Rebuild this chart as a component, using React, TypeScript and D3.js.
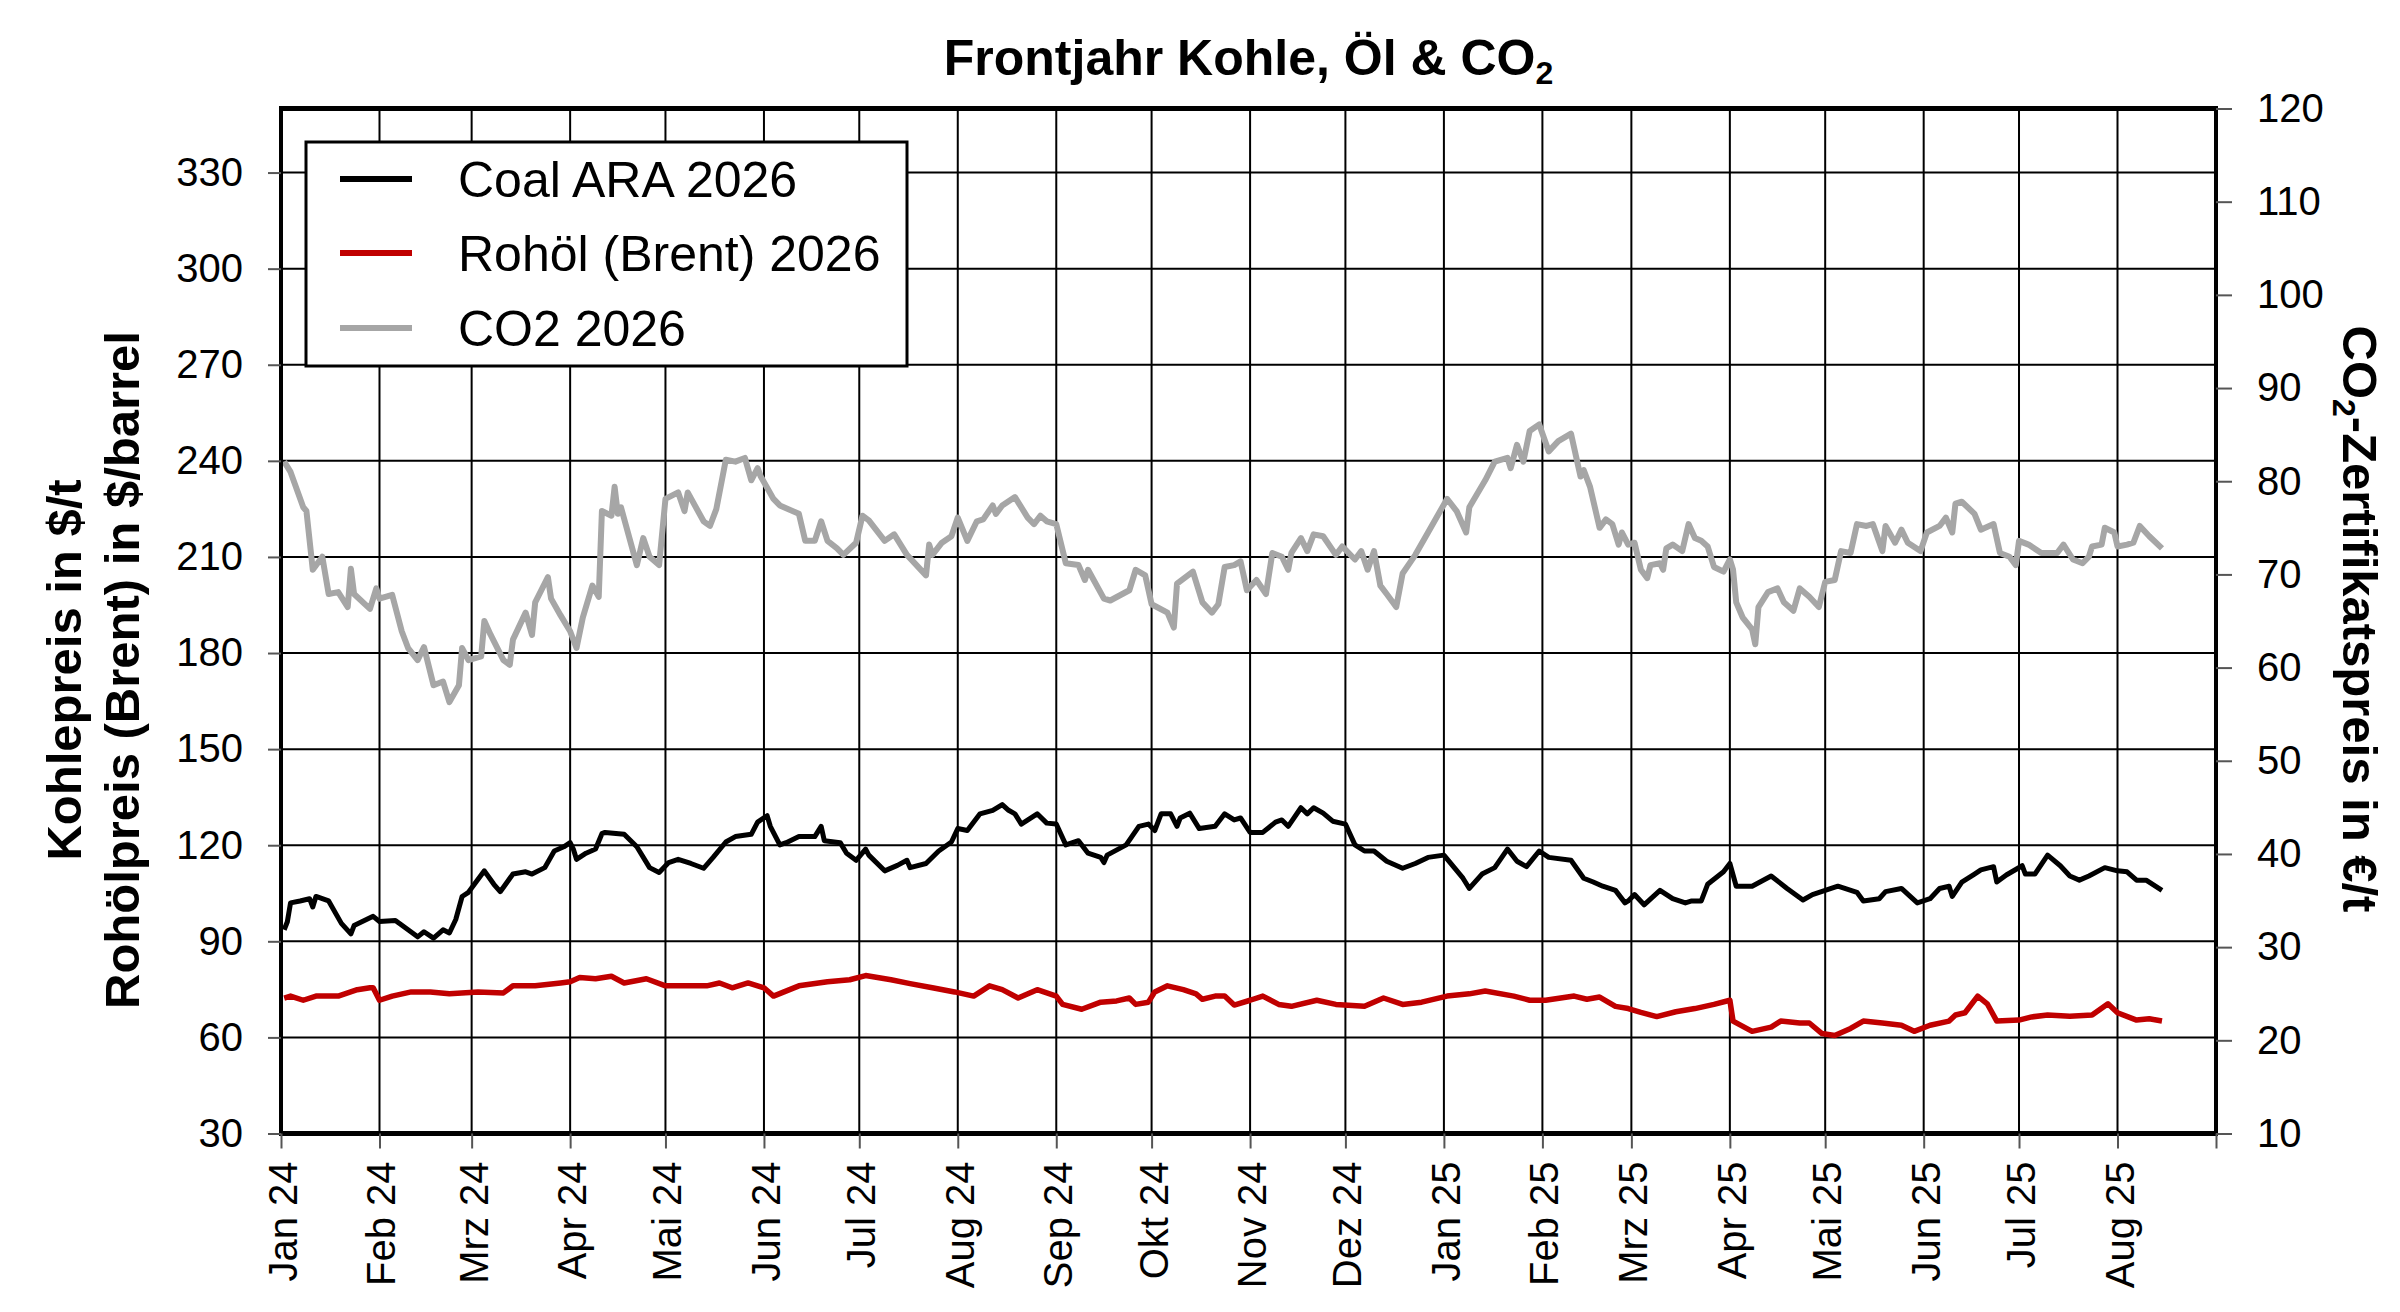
import * as d3 from "d3";
import { useEffect, useRef } from "react";

// month tick labels, Jan 24 .. Aug 25
const monthLabels = [
  "Jan 24", "Feb 24", "Mrz 24", "Apr 24", "Mai 24", "Jun 24", "Jul 24",
  "Aug 24", "Sep 24", "Okt 24", "Nov 24", "Dez 24", "Jan 25", "Feb 25",
  "Mrz 25", "Apr 25", "Mai 25", "Jun 25", "Jul 25", "Aug 25",
];
const leftTicks = [30, 60, 90, 120, 150, 180, 210, 240, 270, 300, 330];
const rightTicks = [10, 20, 30, 40, 50, 60, 70, 80, 90, 100, 110, 120];

const legendLabels = ["Coal ARA 2026", "Rohöl (Brent) 2026", "CO2 2026"];

// Coal ARA 2026 in $/t
const coal: [string, number][] = [
  ["2024-01-02", 93.6], ["2024-01-03", 96.1], ["2024-01-04", 102.0], ["2024-01-07", 102.6],
  ["2024-01-10", 103.3], ["2024-01-11", 100.7], ["2024-01-12", 104.0], ["2024-01-16", 102.6],
  ["2024-01-20", 95.6], ["2024-01-23", 92.3], ["2024-01-24", 94.9], ["2024-01-30", 97.8],
  ["2024-02-01", 96.2], ["2024-02-06", 96.5], ["2024-02-10", 93.6], ["2024-02-13", 91.4],
  ["2024-02-15", 93.0], ["2024-02-18", 91.0], ["2024-02-21", 93.6], ["2024-02-23", 92.6],
  ["2024-02-25", 96.8], ["2024-02-27", 104.0], ["2024-02-29", 105.3], ["2024-03-05", 112.0],
  ["2024-03-08", 107.8], ["2024-03-10", 105.5], ["2024-03-14", 111.0], ["2024-03-18", 111.7],
  ["2024-03-20", 111.0], ["2024-03-24", 113.0], ["2024-03-27", 118.2], ["2024-03-30", 119.5],
  ["2024-04-01", 120.8], ["2024-04-02", 118.8], ["2024-04-03", 115.6], ["2024-04-06", 117.5],
  ["2024-04-09", 118.8], ["2024-04-11", 123.6], ["2024-04-12", 124.0], ["2024-04-18", 123.4],
  ["2024-04-22", 119.5], ["2024-04-26", 113.0], ["2024-04-29", 111.5], ["2024-05-02", 114.6],
  ["2024-05-05", 115.6], ["2024-05-09", 114.3], ["2024-05-13", 112.8], ["2024-05-16", 116.2],
  ["2024-05-20", 121.0], ["2024-05-23", 122.7], ["2024-05-28", 123.4], ["2024-05-30", 127.2],
  ["2024-06-02", 129.2], ["2024-06-03", 125.9], ["2024-06-06", 120.1], ["2024-06-08", 120.8],
  ["2024-06-12", 122.7], ["2024-06-17", 122.7], ["2024-06-19", 125.9], ["2024-06-20", 121.4],
  ["2024-06-25", 120.8], ["2024-06-27", 117.5], ["2024-06-30", 115.3], ["2024-07-03", 118.8],
  ["2024-07-04", 116.9], ["2024-07-09", 112.0], ["2024-07-13", 113.7], ["2024-07-16", 115.3],
  ["2024-07-17", 113.0], ["2024-07-22", 114.3], ["2024-07-26", 118.2], ["2024-07-30", 121.0],
  ["2024-08-01", 125.2], ["2024-08-04", 124.6], ["2024-08-08", 129.8], ["2024-08-12", 130.9],
  ["2024-08-15", 132.7], ["2024-08-17", 130.9], ["2024-08-19", 129.8], ["2024-08-21", 126.6],
  ["2024-08-26", 129.8], ["2024-08-29", 126.9], ["2024-09-01", 126.6], ["2024-09-04", 120.1],
  ["2024-09-08", 121.4], ["2024-09-11", 117.5], ["2024-09-15", 116.2], ["2024-09-16", 114.6],
  ["2024-09-17", 116.9], ["2024-09-23", 120.1], ["2024-09-27", 125.9], ["2024-09-30", 126.6],
  ["2024-10-02", 124.6], ["2024-10-04", 129.8], ["2024-10-07", 129.8], ["2024-10-09", 125.9],
  ["2024-10-10", 128.5], ["2024-10-13", 130.0], ["2024-10-16", 125.2], ["2024-10-21", 125.9],
  ["2024-10-24", 129.8], ["2024-10-27", 127.9], ["2024-10-29", 128.5], ["2024-11-01", 124.0],
  ["2024-11-05", 124.0], ["2024-11-09", 127.2], ["2024-11-11", 127.9], ["2024-11-13", 125.9],
  ["2024-11-17", 131.7], ["2024-11-19", 129.8], ["2024-11-21", 131.7], ["2024-11-24", 130.0],
  ["2024-11-27", 127.5], ["2024-12-01", 126.6], ["2024-12-04", 120.1], ["2024-12-07", 118.2],
  ["2024-12-10", 118.2], ["2024-12-14", 115.0], ["2024-12-19", 112.8], ["2024-12-23", 114.3],
  ["2024-12-27", 116.2], ["2025-01-01", 116.9], ["2025-01-07", 109.7], ["2025-01-09", 106.5],
  ["2025-01-13", 111.0], ["2025-01-17", 113.0], ["2025-01-21", 118.8], ["2025-01-24", 115.0],
  ["2025-01-27", 113.3], ["2025-01-31", 118.2], ["2025-02-03", 116.2], ["2025-02-10", 115.3],
  ["2025-02-14", 109.7], ["2025-02-17", 108.5], ["2025-02-20", 107.2], ["2025-02-24", 105.9],
  ["2025-02-27", 102.0], ["2025-02-28", 102.6], ["2025-03-02", 104.6], ["2025-03-05", 101.4],
  ["2025-03-10", 105.9], ["2025-03-14", 103.3], ["2025-03-18", 102.0], ["2025-03-20", 102.6],
  ["2025-03-23", 102.6], ["2025-03-25", 107.8], ["2025-03-30", 111.7], ["2025-04-01", 114.3],
  ["2025-04-03", 107.2], ["2025-04-08", 107.2], ["2025-04-14", 110.4], ["2025-04-19", 106.5],
  ["2025-04-24", 102.9], ["2025-04-27", 104.6], ["2025-05-01", 105.9], ["2025-05-05", 107.2],
  ["2025-05-11", 105.3], ["2025-05-13", 102.6], ["2025-05-18", 103.3], ["2025-05-20", 105.5],
  ["2025-05-25", 106.5], ["2025-05-30", 102.0], ["2025-06-03", 103.3], ["2025-06-06", 106.5],
  ["2025-06-09", 107.2], ["2025-06-10", 104.0], ["2025-06-13", 108.5], ["2025-06-17", 111.0],
  ["2025-06-19", 112.3], ["2025-06-23", 113.3], ["2025-06-24", 108.5], ["2025-06-27", 110.7],
  ["2025-07-02", 113.6], ["2025-07-03", 111.0], ["2025-07-06", 111.0], ["2025-07-10", 116.9],
  ["2025-07-14", 113.6], ["2025-07-17", 110.4], ["2025-07-20", 109.1], ["2025-07-23", 110.4],
  ["2025-07-28", 113.0], ["2025-08-01", 112.0], ["2025-08-04", 111.7], ["2025-08-07", 109.1],
  ["2025-08-10", 109.1], ["2025-08-15", 105.9],
];

// Rohöl (Brent) 2026 in $/barrel
const oil: [string, number][] = [
  ["2024-01-02", 72.3], ["2024-01-04", 72.9], ["2024-01-08", 71.6], ["2024-01-12", 72.9],
  ["2024-01-19", 72.9], ["2024-01-25", 74.9], ["2024-01-29", 75.5], ["2024-01-30", 75.5],
  ["2024-02-01", 71.6], ["2024-02-05", 72.9], ["2024-02-11", 74.2], ["2024-02-17", 74.2],
  ["2024-02-23", 73.6], ["2024-03-03", 74.2], ["2024-03-11", 73.9], ["2024-03-14", 76.1],
  ["2024-03-21", 76.1], ["2024-03-29", 77.0], ["2024-04-01", 77.4], ["2024-04-04", 78.7],
  ["2024-04-09", 78.3], ["2024-04-14", 79.1], ["2024-04-18", 77.0], ["2024-04-25", 78.3],
  ["2024-05-01", 76.1], ["2024-05-08", 76.1], ["2024-05-14", 76.1], ["2024-05-18", 77.0],
  ["2024-05-22", 75.5], ["2024-05-27", 77.0], ["2024-06-01", 75.5], ["2024-06-04", 72.9],
  ["2024-06-12", 76.1], ["2024-06-21", 77.4], ["2024-06-28", 78.0], ["2024-07-03", 79.3],
  ["2024-07-11", 78.0], ["2024-07-17", 76.8], ["2024-07-24", 75.5], ["2024-07-31", 74.2],
  ["2024-08-06", 72.9], ["2024-08-11", 76.1], ["2024-08-15", 74.9], ["2024-08-20", 72.3],
  ["2024-08-26", 74.9], ["2024-09-01", 72.9], ["2024-09-03", 70.3], ["2024-09-09", 68.8],
  ["2024-09-15", 71.0], ["2024-09-20", 71.4], ["2024-09-24", 72.3], ["2024-09-26", 70.3],
  ["2024-09-30", 71.0], ["2024-10-02", 74.2], ["2024-10-06", 76.1], ["2024-10-11", 74.9],
  ["2024-10-15", 73.6], ["2024-10-17", 71.9], ["2024-10-21", 72.9], ["2024-10-24", 72.9],
  ["2024-10-27", 70.1], ["2024-11-01", 71.6], ["2024-11-05", 72.9], ["2024-11-10", 70.3],
  ["2024-11-14", 69.7], ["2024-11-22", 71.6], ["2024-11-28", 70.3], ["2024-12-07", 69.7],
  ["2024-12-13", 72.3], ["2024-12-19", 70.3], ["2024-12-25", 71.0], ["2025-01-02", 72.9],
  ["2025-01-09", 73.6], ["2025-01-14", 74.5], ["2025-01-23", 72.9], ["2025-01-28", 71.6],
  ["2025-02-02", 71.6], ["2025-02-11", 72.9], ["2025-02-15", 71.9], ["2025-02-19", 72.6],
  ["2025-02-24", 69.7], ["2025-02-28", 69.0], ["2025-03-04", 67.8], ["2025-03-09", 66.5],
  ["2025-03-15", 68.0], ["2025-03-21", 69.0], ["2025-03-27", 70.3], ["2025-04-01", 71.6],
  ["2025-04-02", 65.1], ["2025-04-08", 61.9], ["2025-04-14", 63.2], ["2025-04-17", 65.1],
  ["2025-04-23", 64.5], ["2025-04-26", 64.5], ["2025-04-30", 61.2], ["2025-05-04", 60.6],
  ["2025-05-09", 62.8], ["2025-05-13", 65.1], ["2025-05-19", 64.5], ["2025-05-25", 63.8],
  ["2025-05-29", 61.9], ["2025-06-03", 63.8], ["2025-06-09", 65.1], ["2025-06-11", 67.0],
  ["2025-06-14", 67.7], ["2025-06-18", 72.9], ["2025-06-21", 70.5], ["2025-06-24", 65.1],
  ["2025-07-01", 65.4], ["2025-07-05", 66.4], ["2025-07-10", 67.0], ["2025-07-17", 66.6],
  ["2025-07-24", 67.0], ["2025-07-29", 70.5], ["2025-08-01", 67.7], ["2025-08-07", 65.4],
  ["2025-08-11", 65.8], ["2025-08-15", 65.1],
];

// CO2 2026 in €/t (right axis)
const co2: [string, number][] = [
  ["2024-01-02", 82.1], ["2024-01-04", 81.0], ["2024-01-08", 77.2], ["2024-01-09", 76.8],
  ["2024-01-11", 70.5], ["2024-01-14", 71.9], ["2024-01-16", 67.9], ["2024-01-19", 68.1],
  ["2024-01-22", 66.5], ["2024-01-23", 70.6], ["2024-01-24", 67.9], ["2024-01-29", 66.3],
  ["2024-01-31", 68.5], ["2024-02-01", 67.4], ["2024-02-05", 67.8], ["2024-02-08", 63.9],
  ["2024-02-10", 62.1], ["2024-02-13", 60.8], ["2024-02-15", 62.2], ["2024-02-18", 58.1],
  ["2024-02-21", 58.5], ["2024-02-23", 56.3], ["2024-02-26", 58.1], ["2024-02-27", 62.1],
  ["2024-02-29", 60.8], ["2024-03-04", 61.2], ["2024-03-05", 65.0], ["2024-03-07", 63.5],
  ["2024-03-11", 60.8], ["2024-03-13", 60.3], ["2024-03-14", 63.0], ["2024-03-18", 65.9],
  ["2024-03-20", 63.5], ["2024-03-21", 67.0], ["2024-03-25", 69.7], ["2024-03-26", 67.4],
  ["2024-03-29", 65.6], ["2024-04-01", 63.9], ["2024-04-03", 62.1], ["2024-04-05", 65.4],
  ["2024-04-08", 68.8], ["2024-04-10", 67.6], ["2024-04-11", 76.8], ["2024-04-14", 76.3],
  ["2024-04-15", 79.4], ["2024-04-16", 76.5], ["2024-04-17", 77.2], ["2024-04-22", 71.0],
  ["2024-04-24", 73.9], ["2024-04-26", 71.9], ["2024-04-29", 71.0], ["2024-05-01", 78.1],
  ["2024-05-05", 78.8], ["2024-05-07", 76.8], ["2024-05-08", 78.8], ["2024-05-13", 75.7],
  ["2024-05-15", 75.2], ["2024-05-17", 77.0], ["2024-05-20", 82.3], ["2024-05-23", 82.1],
  ["2024-05-26", 82.5], ["2024-05-28", 80.1], ["2024-05-30", 81.4], ["2024-05-31", 80.5],
  ["2024-06-04", 78.1], ["2024-06-06", 77.4], ["2024-06-12", 76.5], ["2024-06-14", 73.6],
  ["2024-06-17", 73.6], ["2024-06-19", 75.7], ["2024-06-21", 73.6], ["2024-06-24", 72.8],
  ["2024-06-26", 72.1], ["2024-06-30", 73.4], ["2024-07-02", 76.3], ["2024-07-04", 75.8],
  ["2024-07-09", 73.6], ["2024-07-12", 74.3], ["2024-07-16", 72.1], ["2024-07-19", 71.0],
  ["2024-07-22", 69.9], ["2024-07-23", 73.2], ["2024-07-24", 72.1], ["2024-07-27", 73.4],
  ["2024-07-30", 74.1], ["2024-08-01", 76.1], ["2024-08-04", 73.6], ["2024-08-07", 75.7],
  ["2024-08-09", 75.9], ["2024-08-12", 77.4], ["2024-08-13", 76.5], ["2024-08-15", 77.4],
  ["2024-08-19", 78.3], ["2024-08-23", 76.1], ["2024-08-25", 75.4], ["2024-08-27", 76.3],
  ["2024-08-29", 75.7], ["2024-09-01", 75.4], ["2024-09-04", 71.2], ["2024-09-08", 71.0],
  ["2024-09-10", 69.4], ["2024-09-11", 70.5], ["2024-09-16", 67.4], ["2024-09-18", 67.2],
  ["2024-09-24", 68.3], ["2024-09-26", 70.5], ["2024-09-29", 69.9], ["2024-10-01", 66.8],
  ["2024-10-06", 65.9], ["2024-10-08", 64.3], ["2024-10-09", 69.0], ["2024-10-14", 70.3],
  ["2024-10-17", 67.0], ["2024-10-20", 65.9], ["2024-10-22", 66.8], ["2024-10-24", 70.8],
  ["2024-10-27", 71.0], ["2024-10-29", 71.4], ["2024-10-31", 68.3], ["2024-11-03", 69.4],
  ["2024-11-06", 67.9], ["2024-11-08", 72.3], ["2024-11-11", 71.9], ["2024-11-13", 70.5],
  ["2024-11-14", 72.3], ["2024-11-17", 73.9], ["2024-11-19", 72.5], ["2024-11-21", 74.3],
  ["2024-11-24", 74.1], ["2024-11-28", 72.1], ["2024-11-30", 73.0], ["2024-12-04", 71.6],
  ["2024-12-06", 72.5], ["2024-12-08", 70.5], ["2024-12-10", 72.5], ["2024-12-12", 68.8],
  ["2024-12-14", 67.9], ["2024-12-17", 66.5], ["2024-12-19", 70.1], ["2024-12-23", 72.1],
  ["2024-12-27", 74.5], ["2025-01-02", 78.1], ["2025-01-05", 76.8], ["2025-01-08", 74.5],
  ["2025-01-09", 77.2], ["2025-01-14", 80.1], ["2025-01-17", 82.1], ["2025-01-21", 82.5],
  ["2025-01-22", 81.4], ["2025-01-24", 83.9], ["2025-01-26", 82.1], ["2025-01-28", 85.4],
  ["2025-01-31", 86.1], ["2025-02-03", 83.2], ["2025-02-06", 84.3], ["2025-02-10", 85.1],
  ["2025-02-13", 80.5], ["2025-02-14", 81.2], ["2025-02-16", 79.4], ["2025-02-19", 75.0],
  ["2025-02-21", 75.9], ["2025-02-23", 75.4], ["2025-02-25", 73.2], ["2025-02-26", 74.5],
  ["2025-02-28", 73.2], ["2025-03-02", 73.4], ["2025-03-04", 70.5], ["2025-03-06", 69.6],
  ["2025-03-07", 71.0], ["2025-03-10", 71.2], ["2025-03-11", 70.5], ["2025-03-12", 72.8],
  ["2025-03-14", 73.2], ["2025-03-17", 72.5], ["2025-03-19", 75.4], ["2025-03-21", 73.9],
  ["2025-03-23", 73.6], ["2025-03-25", 73.0], ["2025-03-27", 70.8], ["2025-03-30", 70.3],
  ["2025-04-01", 71.6], ["2025-04-02", 70.5], ["2025-04-03", 67.0], ["2025-04-05", 65.4],
  ["2025-04-08", 64.1], ["2025-04-09", 62.5], ["2025-04-10", 66.5], ["2025-04-13", 68.1],
  ["2025-04-16", 68.5], ["2025-04-18", 67.0], ["2025-04-21", 66.1], ["2025-04-23", 68.5],
  ["2025-04-26", 67.6], ["2025-04-29", 66.5], ["2025-05-01", 69.2], ["2025-05-04", 69.4],
  ["2025-05-06", 72.5], ["2025-05-09", 72.3], ["2025-05-11", 75.4], ["2025-05-14", 75.2],
  ["2025-05-16", 75.4], ["2025-05-19", 72.5], ["2025-05-20", 75.2], ["2025-05-23", 73.4],
  ["2025-05-25", 74.8], ["2025-05-27", 73.4], ["2025-05-31", 72.5], ["2025-06-02", 74.5],
  ["2025-06-06", 75.2], ["2025-06-08", 76.1], ["2025-06-10", 74.5], ["2025-06-11", 77.6],
  ["2025-06-13", 77.8], ["2025-06-17", 76.5], ["2025-06-19", 74.8], ["2025-06-23", 75.4],
  ["2025-06-25", 72.3], ["2025-06-28", 71.9], ["2025-06-30", 71.0], ["2025-07-01", 73.6],
  ["2025-07-04", 73.2], ["2025-07-08", 72.3], ["2025-07-13", 72.3], ["2025-07-15", 73.2],
  ["2025-07-18", 71.6], ["2025-07-21", 71.2], ["2025-07-23", 71.9], ["2025-07-24", 73.0],
  ["2025-07-27", 73.2], ["2025-07-28", 75.0], ["2025-07-31", 74.5], ["2025-08-01", 73.0],
  ["2025-08-04", 73.2], ["2025-08-06", 73.4], ["2025-08-08", 75.2], ["2025-08-11", 74.1],
  ["2025-08-15", 72.8],
];

const W = 2400;
const H = 1312;
const plot = { left: 281, right: 2216, top: 108.5, bottom: 1133.5 };
const FONT = "'Liberation Sans', Arial, sans-serif";

function App() {
  const ref = useRef<SVGSVGElement | null>(null);

  useEffect(() => {
    const svg = d3.select(ref.current);
    svg.selectAll("*").remove();

    const parse = d3.utcParse("%Y-%m-%d");
    const start = new Date(Date.UTC(2024, 0, 1));
    const end = new Date(Date.UTC(2025, 8, 1));

    const x = d3.scaleUtc().domain([start, end]).range([plot.left, plot.right]);
    const yLeft = d3.scaleLinear().domain([30, 350]).range([plot.bottom, plot.top]);
    const yRight = d3.scaleLinear().domain([10, 120]).range([plot.bottom, plot.top]);
    const months = d3.utcMonth.range(start, d3.utcDay.offset(end, 1));

    svg.append("rect").attr("width", W).attr("height", H).attr("fill", "#fff");

    // grid
    const grid = svg.append("g").attr("stroke", "#000").attr("stroke-width", 2);
    grid
      .selectAll(".hgrid")
      .data(leftTicks.filter((t) => t > 30))
      .join("line")
      .attr("x1", plot.left)
      .attr("x2", plot.right)
      .attr("y1", (d) => yLeft(d))
      .attr("y2", (d) => yLeft(d));
    grid
      .selectAll(".vgrid")
      .data(months.slice(1, -1))
      .join("line")
      .attr("y1", plot.top)
      .attr("y2", plot.bottom)
      .attr("x1", (d) => x(d))
      .attr("x2", (d) => x(d));

    // series
    const lineLeft = d3
      .line<[string, number]>()
      .x((d) => x(parse(d[0])!))
      .y((d) => yLeft(d[1]));
    const lineRight = d3
      .line<[string, number]>()
      .x((d) => x(parse(d[0])!))
      .y((d) => yRight(d[1]));

    svg
      .append("path")
      .datum(co2)
      .attr("d", lineRight)
      .attr("fill", "none")
      .attr("stroke", "#A6A6A6")
      .attr("stroke-width", 6)
      .attr("stroke-linejoin", "round");
    svg
      .append("path")
      .datum(oil)
      .attr("d", lineLeft)
      .attr("fill", "none")
      .attr("stroke", "#C00000")
      .attr("stroke-width", 5.5)
      .attr("stroke-linejoin", "round");
    svg
      .append("path")
      .datum(coal)
      .attr("d", lineLeft)
      .attr("fill", "none")
      .attr("stroke", "#000")
      .attr("stroke-width", 5)
      .attr("stroke-linejoin", "round");

    // frame
    const frame = svg.append("g").attr("stroke", "#000");
    frame.append("line").attr("x1", plot.left - 2).attr("x2", plot.right + 2)
      .attr("y1", plot.top).attr("y2", plot.top).attr("stroke-width", 5);
    frame.append("line").attr("x1", plot.left - 2).attr("x2", plot.right + 2)
      .attr("y1", plot.bottom).attr("y2", plot.bottom).attr("stroke-width", 5);
    frame.append("line").attr("x1", plot.left).attr("x2", plot.left)
      .attr("y1", plot.top).attr("y2", plot.bottom).attr("stroke-width", 4);
    frame.append("line").attr("x1", plot.right).attr("x2", plot.right)
      .attr("y1", plot.top).attr("y2", plot.bottom).attr("stroke-width", 4);

    // axes
    const yAxisLeft = d3.axisLeft(yLeft).tickValues(leftTicks).tickSize(13).tickPadding(25);
    const yAxisRight = d3.axisRight(yRight).tickValues(rightTicks).tickSize(16).tickPadding(25);
    const xAxis = d3.axisBottom(x).tickValues(months).tickSize(15).tickFormat(() => "");

    const styleAxis = (g: d3.Selection<SVGGElement, unknown, null, undefined>) => {
      g.select(".domain").remove();
      g.selectAll(".tick line").attr("stroke", "#555").attr("stroke-width", 2);
      g.selectAll(".tick text")
        .attr("fill", "#000")
        .style("font-family", FONT)
        .style("font-size", "40px");
    };

    svg.append("g").attr("transform", `translate(${plot.left},0)`).call(yAxisLeft).call(styleAxis);
    svg.append("g").attr("transform", `translate(${plot.right},0)`).call(yAxisRight).call(styleAxis);
    svg.append("g").attr("transform", `translate(0,${plot.bottom})`).call(xAxis).call(styleAxis);

    // rotated month labels
    svg
      .append("g")
      .selectAll("text")
      .data(monthLabels)
      .join("text")
      .attr("transform", (_, i) => `translate(${x(months[i]) + 16},${plot.bottom + 28}) rotate(-90)`)
      .attr("text-anchor", "end")
      .style("font-family", FONT)
      .style("font-size", "40px")
      .text((d) => d);

    // title
    const title = svg
      .append("text")
      .attr("x", (plot.left + plot.right) / 2)
      .attr("y", 74.5)
      .attr("text-anchor", "middle")
      .style("font-family", FONT)
      .style("font-size", "50px")
      .style("font-weight", "bold");
    title.append("tspan").text("Frontjahr Kohle, Öl & CO");
    title.append("tspan").attr("dy", 9).style("font-size", "32px").text("2");

    // left axis title (two lines)
    const leftTitle = ["Kohlepreis in $/t", "Rohölpreis (Brent) in $/barrel"];
    svg
      .append("g")
      .selectAll("text")
      .data(leftTitle)
      .join("text")
      .attr("transform", (_, i) => `translate(${81 + i * 58},670) rotate(-90)`)
      .attr("text-anchor", "middle")
      .style("font-family", FONT)
      .style("font-size", "49px")
      .style("font-weight", "bold")
      .text((d) => d);

    // right axis title
    const rt = svg
      .append("text")
      .attr("transform", "translate(2343,619) rotate(90)")
      .attr("text-anchor", "middle")
      .style("font-family", FONT)
      .style("font-size", "49px")
      .style("font-weight", "bold");
    rt.append("tspan").text("CO");
    rt.append("tspan").attr("dy", 10).style("font-size", "32px").text("2");
    rt.append("tspan").attr("dy", -10).text("-Zertifikatspreis in €/t");

    // legend
    const legend = svg.append("g");
    legend
      .append("rect")
      .attr("x", 306)
      .attr("y", 142)
      .attr("width", 601)
      .attr("height", 224)
      .attr("fill", "#fff")
      .attr("stroke", "#000")
      .attr("stroke-width", 3);
    const legendColors = ["#000", "#C00000", "#A6A6A6"];
    const rowY = [179, 253, 328];
    legendLabels.forEach((label, i) => {
      legend
        .append("line")
        .attr("x1", 340)
        .attr("x2", 412)
        .attr("y1", rowY[i])
        .attr("y2", rowY[i])
        .attr("stroke", legendColors[i])
        .attr("stroke-width", 6);
      legend
        .append("text")
        .attr("x", 458)
        .attr("y", rowY[i])
        .attr("dy", "0.36em")
        .style("font-family", FONT)
        .style("font-size", "50px")
        .text(label);
    });
  }, []);

  return (
    <svg
      ref={ref}
      width={W}
      height={H}
      style={{ position: "absolute", left: 0, top: 0, background: "#fff" }}
    ></svg>
  );
}

export default App;
